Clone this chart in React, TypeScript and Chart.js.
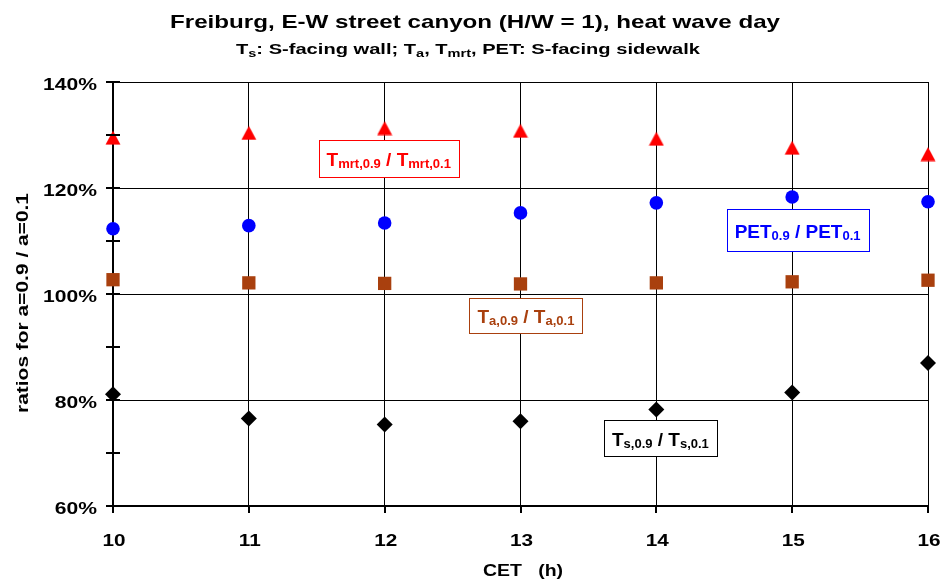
import React, { useEffect, useRef } from 'react';
import { Chart, registerables } from 'chart.js';

Chart.register(...registerables);

// ---------------- data ----------------
const hours = [10, 11, 12, 13, 14, 15, 16];
const tmrtRatio = [129.5, 130.4, 131.3, 130.8, 129.3, 127.6, 126.4];
const petRatio = [112.3, 112.9, 113.4, 115.3, 117.2, 118.3, 117.4];
const taRatio = [102.7, 102.1, 102.0, 101.9, 102.1, 102.3, 102.6];
const tsRatio = [81.1, 76.5, 75.4, 76.0, 78.2, 81.4, 87.0];

const yTickValues = [60, 80, 100, 120, 140];
const yMinorTickValues = [60, 70, 80, 90, 100, 110, 120, 130, 140];
const xTickValues = [10, 11, 12, 13, 14, 15, 16];

type Seg = { t: string; sub?: boolean };

const titleText: Seg[] = [{ t: 'Freiburg, E-W street canyon (H/W = 1), heat wave day' }];
const subtitleText: Seg[] = [
  { t: 'T' }, { t: 's', sub: true }, { t: ': S-facing wall; T' }, { t: 'a', sub: true },
  { t: ', T' }, { t: 'mrt', sub: true }, { t: ', PET: S-facing sidewalk' },
];
const xTitleText: Seg[] = [{ t: 'CET   (h)' }];
const yTitleText: Seg[] = [{ t: 'ratios for a=0.9 / a=0.1' }];

const labelTexts: Seg[][] = [
  [{ t: 'T' }, { t: 'mrt,0.9', sub: true }, { t: ' / T' }, { t: 'mrt,0.1', sub: true }],
  [{ t: 'PET' }, { t: '0.9', sub: true }, { t: ' / PET' }, { t: '0.1', sub: true }],
  [{ t: 'T' }, { t: 'a,0.9', sub: true }, { t: ' / T' }, { t: 'a,0.1', sub: true }],
  [{ t: 'T' }, { t: 's,0.9', sub: true }, { t: ' / T' }, { t: 's,0.1', sub: true }],
];
const labelX = [12.03, 15.04, 13.04, 14.03];
const labelY = [125.6, 112.1, 96.0, 72.8];

// ---------------- styles ----------------
const RED = '#FF0000';
const BLUE = '#0000FF';
const BROWN = '#A9400E';
const BLACK = '#000000';
const labelColors = [RED, BLUE, BROWN, BLACK];
const labelBoxH = [37, 42, 35, 36];
const FONT = '"Liberation Sans", Arial, Helvetica, sans-serif';

function font(size: number) {
  return `bold ${size}px ${FONT}`;
}

type TextOpts = {
  size: number;
  subSize?: number;
  subDy?: number;
  sx?: number;
  target?: number;
  align?: 'left' | 'center' | 'right';
  color?: string;
};

function measureRich(ctx: CanvasRenderingContext2D, segs: Seg[], o: TextOpts) {
  let w = 0;
  for (const s of segs) {
    ctx.font = font(s.sub ? o.subSize || o.size : o.size);
    w += ctx.measureText(s.t).width;
  }
  const sx = o.target ? o.target / w : o.sx || 1;
  return { w: w * sx, raw: w, sx };
}

function drawRich(ctx: CanvasRenderingContext2D, segs: Seg[], x: number, y: number, o: TextOpts) {
  const { w, sx } = measureRich(ctx, segs, o);
  const align = o.align || 'left';
  const startX = align === 'center' ? x - w / 2 : align === 'right' ? x - w : x;
  ctx.save();
  ctx.translate(startX, y);
  ctx.scale(sx, 1);
  ctx.fillStyle = o.color || BLACK;
  ctx.textAlign = 'left';
  ctx.textBaseline = 'alphabetic';
  let cx = 0;
  for (const s of segs) {
    ctx.font = font(s.sub ? o.subSize || o.size : o.size);
    const dy = s.sub ? o.subDy || 0 : 0;
    ctx.fillText(s.t, cx, dy);
    cx += ctx.measureText(s.t).width;
  }
  ctx.restore();
  return w;
}

function makeTriangle(color: string) {
  const c = document.createElement('canvas');
  c.width = 16;
  c.height = 15;
  const g = c.getContext('2d')!;
  g.fillStyle = color;
  g.beginPath();
  g.moveTo(8, 0.5);
  g.lineTo(15.5, 14.5);
  g.lineTo(0.5, 14.5);
  g.closePath();
  g.fill();
  return c;
}

const decorPlugin = {
  id: 'decor',
  afterDraw(chart: any) {
    const ctx: CanvasRenderingContext2D = chart.ctx;
    const xs = chart.scales.x;
    const ys = chart.scales.y;
    const area = chart.chartArea;

    // tick marks
    ctx.save();
    ctx.strokeStyle = BLACK;
    ctx.lineWidth = 2;
    ctx.beginPath();
    for (const v of yMinorTickValues) {
      const py = Math.round(ys.getPixelForValue(v));
      ctx.moveTo(area.left - 7, py);
      ctx.lineTo(area.left + 7, py);
    }
    for (const v of xTickValues) {
      const px = Math.round(xs.getPixelForValue(v));
      ctx.moveTo(px, area.bottom);
      ctx.lineTo(px, area.bottom + 7);
    }
    ctx.stroke();
    ctx.restore();

    // tick labels
    for (const v of yTickValues) {
      const py = ys.getPixelForValue(v);
      drawRich(ctx, [{ t: v + '%' }], area.left - 16, py + 8, { size: 17, sx: 1.24, align: 'right' });
    }
    for (const v of xTickValues) {
      const px = xs.getPixelForValue(v);
      drawRich(ctx, [{ t: String(v) }], px + 1, area.bottom + 40, { size: 17, sx: 1.22, align: 'center' });
    }

    // titles
    drawRich(ctx, titleText, 475, 28, { size: 19, target: 610, align: 'center' });
    drawRich(ctx, subtitleText, 468, 54, { size: 14.5, subSize: 10.5, subDy: 3, target: 464, align: 'center' });
    drawRich(ctx, xTitleText, 523, 576, { size: 16.5, target: 80, align: 'center' });
    ctx.save();
    ctx.translate(22, 303);
    ctx.rotate(-Math.PI / 2);
    drawRich(ctx, yTitleText, 0, 6, { size: 16.5, target: 220, align: 'center' });
    ctx.restore();

    // series labels
    labelTexts.forEach((segs, i) => {
      const cx = xs.getPixelForValue(labelX[i]);
      const cy = ys.getPixelForValue(labelY[i]);
      const opts: TextOpts = { size: 19, subSize: 13, subDy: 2, sx: 1, align: 'center', color: labelColors[i] };
      const { w } = measureRich(ctx, segs, opts);
      const bw = Math.round(w + 16);
      const bh = labelBoxH[i];
      const bx = Math.round(cx - bw / 2) + 0.5;
      const by = Math.round(cy - bh / 2) + 0.5;
      ctx.save();
      ctx.fillStyle = '#FFFFFF';
      ctx.fillRect(bx, by, bw, bh);
      ctx.strokeStyle = labelColors[i];
      ctx.lineWidth = 1;
      ctx.strokeRect(bx, by, bw, bh);
      ctx.restore();
      drawRich(ctx, segs, cx, cy + 8, opts);
    });
  },
};

function toPoints(vals: number[]) {
  return hours.map((h, i) => ({ x: h, y: vals[i] }));
}

export default function App() {
  const ref = useRef<HTMLCanvasElement | null>(null);

  useEffect(() => {
    if (!ref.current) return;
    const chart = new Chart(ref.current, {
      type: 'scatter',
      data: {
        datasets: [
          {
            label: 'Tmrt',
            data: toPoints(tmrtRatio),
            pointStyle: makeTriangle(RED) as any,
            backgroundColor: RED,
            borderColor: RED,
            pointRadius: 8,
            clip: false,
          },
          {
            label: 'PET',
            data: toPoints(petRatio),
            pointStyle: 'circle',
            backgroundColor: BLUE,
            borderColor: BLUE,
            borderWidth: 0,
            pointRadius: 6.8,
            clip: false,
          },
          {
            label: 'Ta',
            data: toPoints(taRatio),
            pointStyle: 'rect',
            backgroundColor: BROWN,
            borderColor: BROWN,
            borderWidth: 0,
            pointRadius: 9.4,
            clip: false,
          },
          {
            label: 'Ts',
            data: toPoints(tsRatio),
            pointStyle: 'rectRot',
            backgroundColor: BLACK,
            borderColor: BLACK,
            borderWidth: 0,
            pointRadius: 8,
            clip: false,
          },
        ] as any,
      },
      options: {
        animation: false,
        responsive: false,
        devicePixelRatio: 1,
        events: [],
        layout: { padding: { left: 113, right: 13, top: 82, bottom: 75 } },
        plugins: {
          legend: { display: false },
          tooltip: { enabled: false },
          title: { display: false },
        },
        scales: {
          x: {
            type: 'linear',
            min: 10,
            max: 16,
            afterFit: (s: any) => {
              s.height = 0;
            },
            ticks: { display: false, stepSize: 1 },
            grid: { color: BLACK, lineWidth: 1, drawTicks: false },
            border: { display: true, color: BLACK, width: 2 },
            title: { display: false },
          },
          y: {
            type: 'linear',
            min: 60,
            max: 140,
            afterFit: (s: any) => {
              s.width = 0;
            },
            ticks: { display: false, stepSize: 10 },
            grid: {
              color: (c: any) => (c.tick && c.tick.value % 20 === 0 ? BLACK : 'rgba(0,0,0,0)'),
              lineWidth: 1,
              drawTicks: false,
            },
            border: { display: true, color: BLACK, width: 2 },
            title: { display: false },
          },
        },
      } as any,
      plugins: [decorPlugin],
    });
    return () => chart.destroy();
  }, []);

  return (
    <div style={{ position: 'absolute', left: 0, top: 0, width: 941, height: 581, background: '#fff' }}>
      <canvas ref={ref} width={941} height={581} style={{ display: 'block' }} />
    </div>
  );
}
